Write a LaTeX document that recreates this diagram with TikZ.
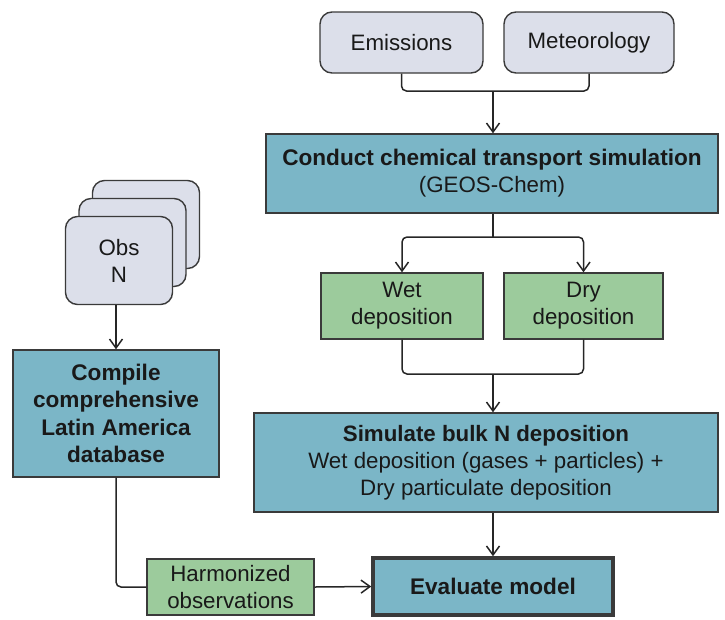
\documentclass[tikz,border=0pt]{standalone}
\usepackage{fontspec}
\setmainfont{Liberation Sans}
\usetikzlibrary{arrows.meta}
\definecolor{teal}{HTML}{7BB6C7}
\definecolor{grn}{HTML}{9CCB9C}
\definecolor{gry}{HTML}{DCDFEA}
\definecolor{edge}{HTML}{3A3A3A}
\tikzset{
  x=1pt,y=-1pt,
  box/.style={draw=edge,line width=1.4pt,text=black!90,align=center,inner sep=0pt,
    font=\fontsize{22.3}{27}\selectfont},
  tealbox/.style={box,fill=teal},
  grnbox/.style={box,fill=grn},
  grybox/.style={box,fill=gry,rounded corners=12pt},
  conn/.style={draw=black!85,line width=1.5pt,rounded corners=5pt},
  arr/.style={conn,-{Straight Barb[length=9pt,width=13pt,line width=1.5pt]}},
}
\begin{document}
\begin{tikzpicture}
\useasboundingbox (0,0) rectangle (725,619);
% top inputs
\node[grybox,minimum width=163pt,minimum height=61pt] (emis) at (401.5,42.5) {Emissions};
\node[grybox,minimum width=170pt,minimum height=61pt] (meteo) at (589,42.5) {Meteorology};
\node[tealbox,minimum width=452pt,minimum height=79pt] (cts) at (492,173.5)
  {\textbf{\fontsize{22.6}{30}\selectfont Conduct chemical transport simulation}\\(GEOS-Chem)};
\node[grnbox,minimum width=162pt,minimum height=66pt] (wet) at (402,306) {Wet\\deposition};
\node[grnbox,minimum width=159pt,minimum height=66pt] (dry) at (583.5,306) {Dry\\deposition};
\node[tealbox,minimum width=464pt,minimum height=99pt] (bulk) at (486,462.5)
  {\textbf{Simulate bulk N deposition}\\Wet deposition (gases + particles) +\\Dry particulate deposition};
% observations stack
\node[grybox,minimum width=107pt,minimum height=88pt] (obs3) at (146,224.5) {};
\node[grybox,minimum width=107pt,minimum height=88pt] (obs2) at (132.5,242.5) {};
\node[grybox,minimum width=107pt,minimum height=88pt] (obs1) at (119,260.5) {Obs\\N};
\node[tealbox,minimum width=206pt,minimum height=127pt,font=\bfseries\fontsize{22.6}{27.5}\selectfont] (comp) at (116,413.5)
  {Compile\\comprehensive\\Latin America\\database};
\node[grnbox,minimum width=167pt,minimum height=56pt] (harm) at (230.5,587) {Harmonized\\observations};
\node[tealbox,line width=3.5pt,minimum width=240pt,minimum height=57pt,font=\bfseries\fontsize{22.6}{27}\selectfont] (eval) at (493,586.5) {Evaluate model};
% junctions
\coordinate (topj) at (493,91);
\coordinate (split) at (493,237);
\coordinate (merge) at (493,374);
% connectors
\draw[conn] (emis.south) |- (topj) -| (meteo.south);
\draw[arr] (topj) -- (topj |- cts.north);
\draw[conn] (split |- cts.south) -- (split);
\draw[arr] (split) -| (wet.north);
\draw[arr] (split) -| (dry.north);
\draw[conn] (wet.south) |- (merge) -| (dry.south);
\draw[arr] (merge) -- (merge |- bulk.north);
\draw[arr] (eval.north |- bulk.south) -- (eval.north);
\draw[arr] (comp.north |- obs1.south) -- (comp.north);
\draw[conn] (comp.south) |- (harm.west);
\draw[arr] (harm.east) -- (eval.west);
\end{tikzpicture}
\end{document}
